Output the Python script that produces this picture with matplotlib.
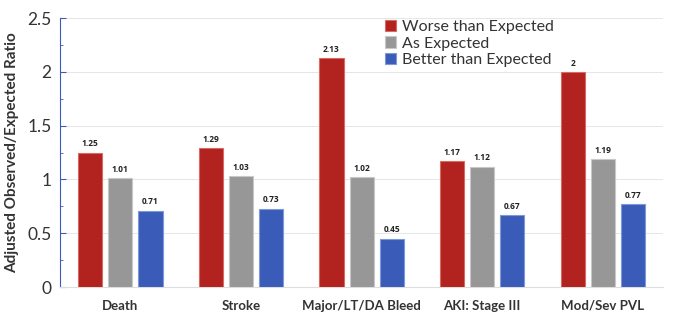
import numpy as np
import matplotlib
matplotlib.use("Agg")
import matplotlib.pyplot as plt
from matplotlib.ticker import MultipleLocator, FuncFormatter

categories = ["Death", "Stroke", "Major/LT/DA Bleed", "AKI: Stage III", "Mod/Sev PVL"]
worse = [1.25, 1.29, 2.13, 1.17, 2]
as_expected = [1.01, 1.03, 1.02, 1.12, 1.19]
better = [0.71, 0.73, 0.45, 0.67, 0.77]
series_names = ["Worse than Expected", "As Expected", "Better than Expected"]

colors = ["#B2221F", "#979797", "#3A5CB8"]
edges = ["#D86A66", "#C8C8C8", "#7E98D8"]

plt.rcParams['font.family'] = ['Lato', 'DejaVu Sans']

fig = plt.figure(figsize=(6.74, 3.24), dpi=100)
ax = fig.add_axes([0.089, 0.114, 0.895, 0.83])

x = np.arange(len(categories))
width = 0.2
for i, (vals, name) in enumerate(zip([worse, as_expected, better], series_names)):
    pos = x + (i - 1) * 0.25
    bars = ax.bar(pos, vals, width, color=colors[i], edgecolor=edges[i],
                  linewidth=0.8, label=name, zorder=3)
    # value labels on top
    for b, v in zip(bars, vals):
        ax.text(b.get_x() + b.get_width() / 2, v + 0.04, str(v),
                ha='center', va='bottom', fontsize=6, fontweight='bold',
                color='#222222', family=['Open Sans', 'DejaVu Sans'])

ax.set_xlim(-0.5, len(categories) - 0.5)
ax.set_ylim(0, 2.5)
ax.yaxis.set_major_locator(MultipleLocator(0.5))
ax.yaxis.set_minor_locator(MultipleLocator(0.25))
ax.yaxis.set_major_formatter(FuncFormatter(lambda v, p: f"{v:g}"))
ax.grid(axis='y', color='#E6E6E6', linewidth=0.7, zorder=0)

ax.set_xticks(x)
ax.set_xticklabels(categories, fontsize=9.5, fontweight='bold', color='#333333')
ax.tick_params(axis='x', length=0, pad=9)
ax.tick_params(axis='y', which='major', labelsize=12.5, colors='#3A5CB8',
               labelcolor='#333333', length=4, direction='in', pad=6)
ax.tick_params(axis='y', which='minor', colors='#3A5CB8', length=2, direction='in')

ax.set_ylabel("Adjusted Observed/Expected Ratio", fontsize=11,
              fontweight='bold', color='#333333', labelpad=6)

for s in ['top', 'right']:
    ax.spines[s].set_visible(False)
ax.spines['left'].set_color('#3A5CB8')
ax.spines['bottom'].set_color('#DDDDDD')

leg = ax.legend(loc='upper left', bbox_to_anchor=(0.52, 1.035), frameon=False,
                fontsize=11.5, handlelength=0.7, handleheight=0.7,
                handletextpad=0.4, labelspacing=0.15, borderaxespad=0.3)
for t in leg.get_texts():
    t.set_color('#333333')

fig.savefig("out.png", dpi=100)
